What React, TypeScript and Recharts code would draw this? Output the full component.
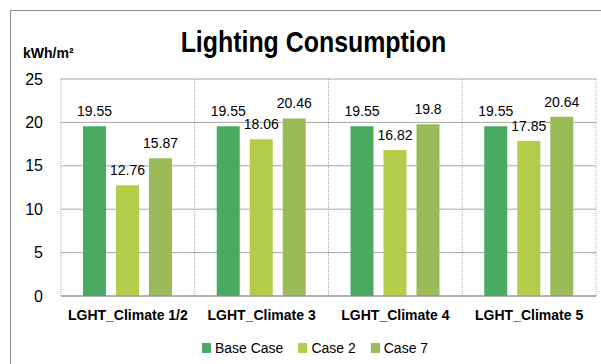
import React from "react"
import { Bar, BarChart, CartesianGrid, LabelList, Legend, XAxis, YAxis } from "recharts"

const climates = ["LGHT_Climate 1/2", "LGHT_Climate 3", "LGHT_Climate 4", "LGHT_Climate 5"]
const baseCase = [19.55, 19.55, 19.55, 19.55]
const case2 = [12.76, 18.06, 16.82, 17.85]
const case7 = [15.87, 20.46, 19.8, 20.64]
const yTicks = [0, 5, 10, 15, 20, 25]

const data = climates.map((name, i) => ({
    name,
    base: baseCase[i],
    case2: case2[i],
    case7: case7[i],
}))

const font = "'Liberation Sans', Arial, sans-serif"

// dotted separators on the category borders instead of the band centres
const categoryBorders = ({ offset }: any) =>
    Array.from({ length: climates.length + 1 }, (_, i) => offset.left + (i * offset.width) / climates.length)

// square swatches with a bit more spacing than the default legend
function renderLegend(props: any) {
    const items = props.payload || []
    return (
        <div style={{ display: "flex", justifyContent: "center", alignItems: "center", height: 18, paddingLeft: 29, fontSize: 14, fontFamily: font, color: "#000" }}>
            {items.map((entry: any, i: number) => (
                <span key={entry.value} style={{ display: "flex", alignItems: "center", marginRight: i < items.length - 1 ? 15 : 0 }}>
                    <span style={{ display: "inline-block", width: 9, height: 10, background: entry.color, marginRight: 4 }} />
                    {entry.value}
                </span>
            ))}
        </div>
    )
}

export default function App() {
    return (
        <div style={{ position: "absolute", left: 0, top: 0, width: 601, height: 364, background: "#fff", fontFamily: font, overflow: "hidden" }}>
            <div style={{ position: "absolute", left: 10, top: 10, width: 620, height: 400, border: "1px solid #8c8c8c" }} />
            <div style={{ position: "absolute", left: 0, width: 627, top: 25, textAlign: "center", fontSize: 30, fontWeight: "bold", transform: "scaleX(0.83)", transformOrigin: "313px 0" }}>
                Lighting Consumption
            </div>
            <div style={{ position: "absolute", left: 23, top: 45, fontSize: 14, fontWeight: "bold" }}>kWh/m²</div>
            <BarChart width={601} height={364} data={data}
                margin={{ top: 79, right: 5, left: 0, bottom: 20 }}
                barCategoryGap={22} barGap={10}>
                <CartesianGrid vertical={false} stroke="#a6a6a6" />
                <CartesianGrid horizontal={false} stroke="#a6a6a6" strokeDasharray="1 1"
                    verticalCoordinatesGenerator={categoryBorders} />
                <XAxis dataKey="name" height={30} tickLine={false} axisLine={{ stroke: "#8c8c8c" }}
                    tick={{ fontSize: 14, fontWeight: "bold", fill: "#000", fontFamily: font }} tickMargin={8} interval={0} />
                <YAxis domain={[0, 25]} ticks={yTicks} width={61} tickLine={false} axisLine={false}
                    tick={{ fontSize: 16, fill: "#000", fontFamily: font }} tickMargin={12} />
                <Legend verticalAlign="bottom" content={renderLegend}
                    wrapperStyle={{ left: 0, width: 601, bottom: 7 }} />
                <Bar dataKey="base" name="Base Case" fill="#4aaa62" isAnimationActive={false}>
                    <LabelList dataKey="base" position="top" offset={10} fontSize={14} fill="#000" fontFamily={font} />
                </Bar>
                <Bar dataKey="case2" name="Case 2" fill="#b3cd4a" isAnimationActive={false}>
                    <LabelList dataKey="case2" position="top" offset={10} fontSize={14} fill="#000" fontFamily={font} />
                </Bar>
                <Bar dataKey="case7" name="Case 7" fill="#9bbb59" isAnimationActive={false}>
                    <LabelList dataKey="case7" position="top" offset={10} fontSize={14} fill="#000" fontFamily={font} />
                </Bar>
            </BarChart>
        </div>
    )
}
